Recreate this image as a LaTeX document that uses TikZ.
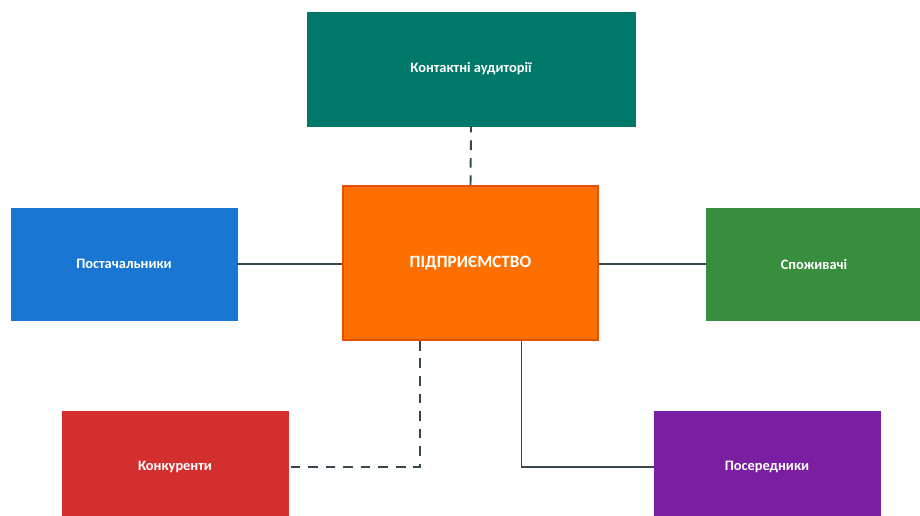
\documentclass[tikz,border=0pt]{standalone}
\usepackage{fontspec}
\setmainfont{Carlito}
\usetikzlibrary{calc}
\definecolor{tealbox}{HTML}{00796B}
\definecolor{bluebox}{HTML}{1976D2}
\definecolor{greenbox}{HTML}{388E3C}
\definecolor{redbox}{HTML}{D32F2F}
\definecolor{purplebox}{HTML}{7B1FA2}
\definecolor{orangebox}{HTML}{FF6F00}
\definecolor{orangeline}{HTML}{E65100}
\definecolor{linkcol}{HTML}{37474F}

\begin{document}
\begin{tikzpicture}[x=0.02cm,y=-0.02cm]

\tikzset{box/.style = {rectangle,draw,text=white,font=\bfseries\fontsize{8.2}{10}\selectfont,minimum width=4.52cm,minimum height=2.24cm,inner sep=0pt}}
\tikzset{link/.style = {draw=linkcol,line width=1.1pt}}
\tikzset{dlink/.style = {link,dash pattern=on 5.5pt off 4.5pt}}

\useasboundingbox (0,0) rectangle (920,515);
\clip (0,0) rectangle (920,515);

%boxes
\node[box,fill=tealbox,draw=tealbox,minimum width=6.56cm,minimum height=2.28cm] (kontakt) at (471,69) {Контактні аудиторії};
\node[box,fill=orangebox,draw=orangeline,line width=1pt,minimum width=5.1cm,minimum height=3.08cm,font=\bfseries\fontsize{9.8}{12}\selectfont] (firm) at (470.5,263) {ПІДПРИЄМСТВО};
\node[box,fill=bluebox,draw=bluebox] (postach) at (124,264) {Постачальники};
\node[box,fill=greenbox,draw=greenbox,minimum width=4.32cm] (spozh) at (814,264) {Споживачі};
\node[box,fill=redbox,draw=redbox] (konk) at (175,467) {Конкуренти};
\node[box,fill=purplebox,draw=purplebox] (poser) at (767,467) {Посередники};

%solid links
\draw[link] (postach.east) -- (postach.east -| firm.west);
\draw[link] (spozh.west -| firm.east) -- (spozh.west);
\draw[link] ($(firm.south)+(51,0)$) |- (poser.west);

%dashed links
\draw[dlink] (firm.north) -- (kontakt.south);
\draw[dlink] ($(firm.south)+(-50.5,0)$) |- (konk.east);

\end{tikzpicture}
\end{document}
